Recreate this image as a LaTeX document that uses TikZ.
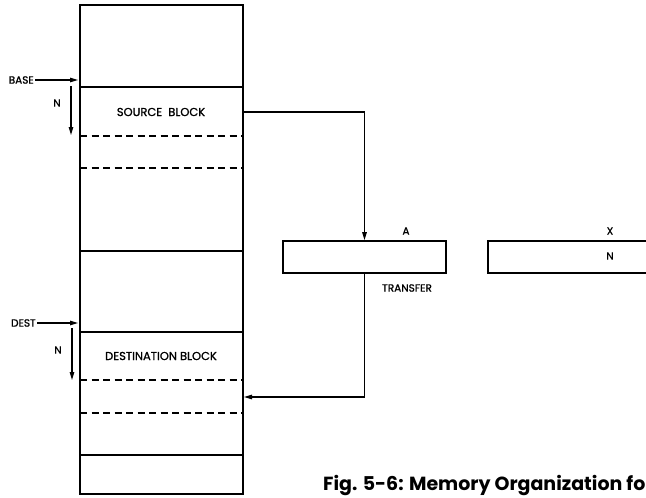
\documentclass[tikz,border=0pt]{standalone}
\usepackage{fontspec}
\setmainfont{Poppins}
\newfontfamily\lblfont[FakeBold=1.2]{Poppins}
\usetikzlibrary{arrows.meta}
\begin{document}
\begin{tikzpicture}[x=1pt,y=-1pt,
  solidln/.style={line width=1.6pt},
  dashln/.style={line width=1.5pt,dash pattern=on 7pt off 4.5pt},
  lbl/.style={font=\lblfont\fontsize{10.5}{12}\selectfont,inner sep=1pt},
  blk/.style={font=\lblfont\fontsize{11.5}{13}\selectfont,inner sep=1pt},
  arr/.style={line width=1.1pt,-{Triangle[length=8pt,width=4.5pt]}},
  regbox/.style={draw,line width=1.6pt,minimum height=32pt,inner sep=0pt}]
\useasboundingbox (0,0) rectangle (646,498);
\clip (0,0) rectangle (646,498);
% memory column
\draw[solidln] (80,5) rectangle (243,494);
\draw[solidln] (80,87) -- (243,87);
\draw[dashln] (80,136) -- (243,136);
\draw[dashln] (80,168) -- (243,168);
\draw[solidln] (80,251) -- (243,251);
\draw[solidln] (80,332) -- (243,332);
\draw[dashln] (80,380) -- (243,380);
\draw[dashln] (80,413) -- (243,413);
\draw[solidln] (80,455) -- (243,455);
% block labels
\node[blk] (src) at (161,112) {SOURCE\ \ BLOCK};
\node[blk] (dst) at (161,356) {DESTINATION BLOCK};
\coordinate (srcR) at (243,112);
\coordinate (dstR) at (244,397);
% pointers
\node[lbl,anchor=east] (base) at (35,80) {BASE};
\coordinate (baseR) at (78,80);
\draw[arr] (base) -- (baseR);
\node[lbl] (n1) at (57,103) {N};
\coordinate (n1s) at (71,86);
\coordinate (n1e) at (71,135);
\draw[arr] (n1s) -- (n1e);
\node[lbl,anchor=east] (dest) at (37,323) {DEST};
\coordinate (destR) at (78,323);
\draw[arr] (dest) -- (destR);
\node[lbl] (n2) at (58,350) {N};
\coordinate (n2s) at (72,328);
\coordinate (n2e) at (72,380);
\draw[arr] (n2s) -- (n2e);
% registers
\node[regbox,minimum width=163pt] (A) at (364.5,257) {};
\node[lbl] (Alab) at (406,231) {A};
\node[lbl] (tr) at (407,288) {TRANSFER};
\node[regbox,minimum width=200pt,anchor=west] (X) at (487,257) {};
\node[lbl] (Xlab) at (610,231) {X};
\node[lbl] (Nx) at (610,256) {N};
% connectors
\draw[arr] (srcR) -| (A.north);
\draw[arr] (A.south) |- (dstR);
% caption
\node[anchor=base west,inner sep=0pt,font=\fontsize{19}{22}\selectfont\bfseries] (cap) at (323,490) {Fig. 5-6: Memory Organization fo};
\end{tikzpicture}
\end{document}
